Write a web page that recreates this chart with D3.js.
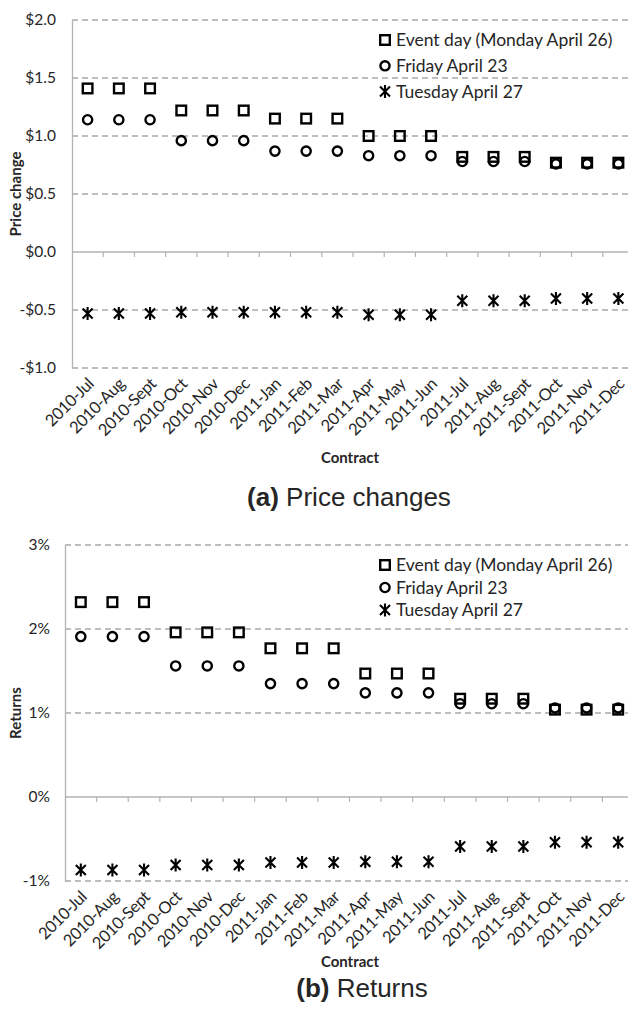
<!DOCTYPE html>
<html>
<head>
<meta charset="utf-8">
<script src="https://cdn.jsdelivr.net/npm/d3@7"></script>
<style>
  html, body { margin: 0; padding: 0; background: #fff; }
  svg { display: block; }
  text { font-family: Lato, "Open Sans", sans-serif; fill: #262626; }
</style>
</head>
<body>
<svg id="fig" width="628" height="1010"></svg>
<script>
// Futures contracts on the x axis
const contracts = ["2010-Jul","2010-Aug","2010-Sept","2010-Oct","2010-Nov","2010-Dec",
  "2011-Jan","2011-Feb","2011-Mar","2011-Apr","2011-May","2011-Jun",
  "2011-Jul","2011-Aug","2011-Sept","2011-Oct","2011-Nov","2011-Dec"];

const seriesNames = ["Event day (Monday April 26)", "Friday April 23", "Tuesday April 27"];

// (a) price changes, dollars
const priceEvent   = [1.41,1.41,1.41,1.22,1.22,1.22,1.15,1.15,1.15,1.00,1.00,1.00,0.82,0.82,0.82,0.77,0.77,0.77];
const priceFriday  = [1.14,1.14,1.14,0.96,0.96,0.96,0.87,0.87,0.87,0.83,0.83,0.83,0.78,0.78,0.78,0.76,0.76,0.76];
const priceTuesday = [-0.53,-0.53,-0.53,-0.52,-0.52,-0.52,-0.52,-0.52,-0.52,-0.54,-0.54,-0.54,-0.42,-0.42,-0.42,-0.40,-0.40,-0.40];
const priceTicks   = [-1.0,-0.5,0.0,0.5,1.0,1.5,2.0];

// (b) returns, percent
const returnEvent   = [2.32,2.32,2.32,1.96,1.96,1.96,1.77,1.77,1.77,1.47,1.47,1.47,1.17,1.17,1.17,1.04,1.04,1.04];
const returnFriday  = [1.91,1.91,1.91,1.56,1.56,1.56,1.35,1.35,1.35,1.24,1.24,1.24,1.11,1.11,1.11,1.06,1.06,1.06];
const returnTuesday = [-0.87,-0.87,-0.87,-0.81,-0.81,-0.81,-0.78,-0.78,-0.78,-0.77,-0.77,-0.77,-0.59,-0.59,-0.59,-0.54,-0.54,-0.54];
const returnTicks   = [-1,0,1,2,3];

const svg = d3.select("#fig");

// marker shapes: hollow square, hollow circle, asterisk (X with vertical bar)
function drawMarker(g, kind) {
  if (kind === "square") {
    g.append("rect").attr("x", -4.8).attr("y", -4.8).attr("width", 9.6).attr("height", 9.6)
      .attr("fill", "none").attr("stroke", "#000").attr("stroke-width", 2.4);
  } else if (kind === "circle") {
    g.append("circle").attr("r", 4.6)
      .attr("fill", "none").attr("stroke", "#000").attr("stroke-width", 2.4);
  } else {
    g.append("path").attr("d", "M-5,-5L5,5M-5,5L5,-5M0,-6.5L0,6.5")
      .attr("fill", "none").attr("stroke", "#000").attr("stroke-width", 2.1);
  }
}

function panel(opt) {
  const g = svg.append("g");
  const x = d3.scaleBand().domain(contracts).range([opt.left, opt.right]);
  const y = d3.scaleLinear().domain(d3.extent(opt.ticks)).range([opt.bottom, opt.top]);

  // dashed gridlines (every tick except zero)
  g.append("g").selectAll("line").data(opt.ticks.filter(t => t !== 0)).join("line")
    .attr("x1", opt.left).attr("x2", opt.right)
    .attr("y1", d => y(d)).attr("y2", d => y(d))
    .attr("stroke", "#7f7f7f").attr("stroke-width", 1.2).attr("stroke-dasharray", "6,4");

  // y axis
  const yAxis = d3.axisLeft(y).tickValues(opt.ticks).tickFormat(opt.fmt).tickSize(0).tickPadding(opt.left - opt.labelRight);
  const ya = g.append("g").attr("transform", `translate(${opt.left},0)`).call(yAxis);
  ya.select(".domain").attr("stroke", "#b3b3b3").attr("stroke-width", 1.3);
  ya.selectAll("text").attr("font-size", 15.5).attr("fill", "#333").style("font-family", "Lato, sans-serif");

  // zero axis with category ticks
  const xAxis = d3.axisBottom(x).tickSize(5).tickFormat("");
  const xa = g.append("g").attr("transform", `translate(0,${y(0)})`).call(xAxis);
  xa.select(".domain").attr("stroke", "#b3b3b3").attr("stroke-width", 1.3).attr("d", `M${opt.left},0H${opt.right}`);
  xa.selectAll(".tick").attr("transform", d => `translate(${x(d) + x.bandwidth()},0)`);
  xa.selectAll(".tick line").attr("stroke", "#b3b3b3").attr("stroke-width", 1.2);

  // rotated contract labels below the plot
  g.append("g").selectAll("text").data(contracts).join("text")
    .attr("transform", d => `translate(${x(d) + x.bandwidth() / 2 + 7},${opt.bottom + 17}) rotate(-45)`)
    .attr("text-anchor", "end").attr("font-size", 16.5).attr("letter-spacing", -0.4).attr("fill", "#333")
    .text(d => d);

  // series markers
  const series = [
    { vals: opt.tuesday, kind: "star" },
    { vals: opt.friday, kind: "circle" },
    { vals: opt.event, kind: "square" }
  ];
  series.forEach(s => {
    g.append("g").selectAll("g").data(contracts).join("g")
      .attr("transform", (d, i) => `translate(${x(d) + x.bandwidth() / 2},${y(s.vals[i])})`)
      .each(function () { drawMarker(d3.select(this), s.kind); });
  });

  // legend
  const kinds = ["square", "circle", "star"];
  const lg = g.append("g");
  seriesNames.forEach((name, i) => {
    const row = lg.append("g").attr("transform", `translate(385,${opt.legendY + i * opt.legendStep})`);
    drawMarker(row, kinds[i]);
    row.append("text").attr("x", 11).attr("y", 0).attr("dy", "0.35em")
      .attr("font-size", 17.5).attr("fill", "#1a1a1a").text(name);
  });

  // axis titles
  g.append("text")
    .attr("transform", `translate(${opt.yTitleX},${(opt.top + opt.bottom) / 2}) rotate(-90)`)
    .attr("text-anchor", "middle").attr("dy", "0.35em")
    .attr("font-size", 15).attr("font-weight", "bold").attr("fill", "#000").text(opt.yTitle);
  g.append("text").attr("x", 350).attr("y", opt.xTitleY)
    .attr("text-anchor", "middle").attr("dy", "0.35em")
    .attr("font-size", 15).attr("font-weight", "bold").attr("fill", "#000").text("Contract");

  // panel caption
  const cap = g.append("text").attr("x", opt.capX).attr("y", opt.capY)
    .attr("text-anchor", "middle").attr("dy", "0.35em")
    .style("font-family", "'Liberation Sans', Arial, sans-serif")
    .attr("font-size", 26).attr("fill", "#000");
  cap.append("tspan").attr("font-weight", "bold").text(opt.capTag);
  cap.append("tspan").text(" " + opt.capText);
}

panel({
  left: 72, right: 634, top: 20, bottom: 368, labelRight: 56,
  ticks: priceTicks,
  fmt: d => (d < 0 ? "-$" : "$") + Math.abs(d).toFixed(1),
  event: priceEvent, friday: priceFriday, tuesday: priceTuesday,
  legendY: 40, legendStep: 25.8,
  yTitle: "Price change", yTitleX: 16,
  xTitleY: 458,
  capX: 349, capY: 497, capTag: "(a)", capText: "Price changes"
});

panel({
  left: 65, right: 634, top: 545, bottom: 881, labelRight: 50,
  ticks: returnTicks,
  fmt: d => d + "%",
  event: returnEvent, friday: returnFriday, tuesday: returnTuesday,
  legendY: 565, legendStep: 22.5,
  yTitle: "Returns", yTitleX: 16,
  xTitleY: 962,
  capX: 362, capY: 988, capTag: "(b)", capText: "Returns"
});
</script>
</body>
</html>
